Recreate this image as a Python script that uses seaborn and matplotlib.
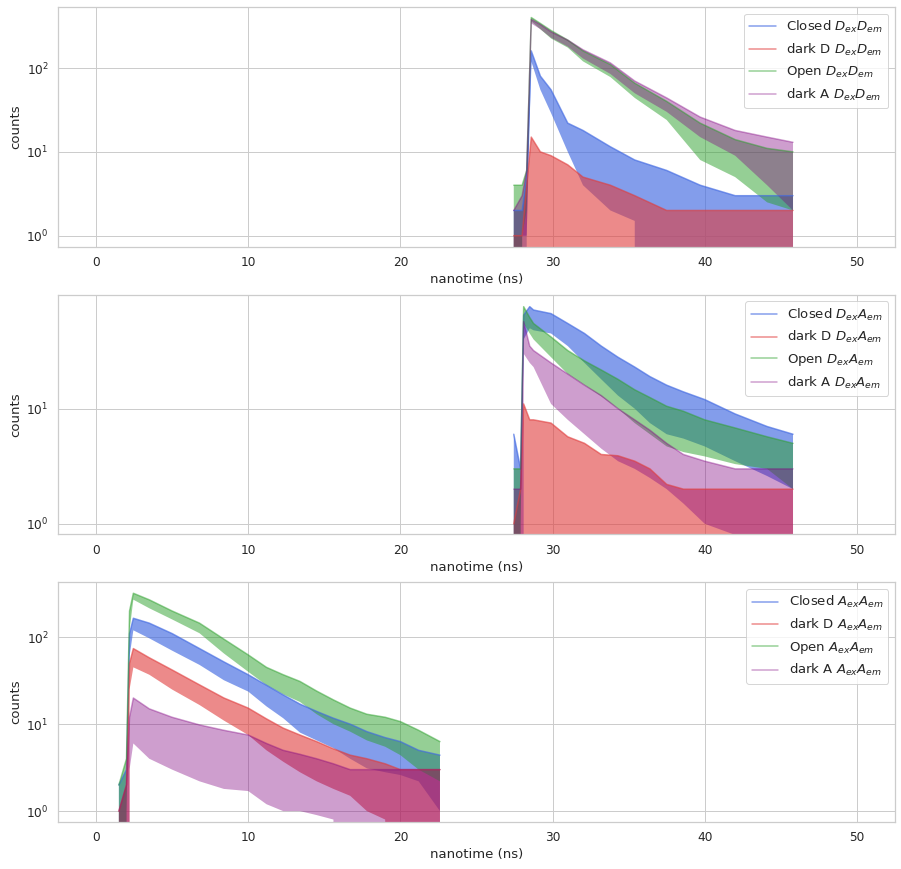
import pandas as pd
import seaborn as sns
import matplotlib.pyplot as plt

series_names = ['Closed', 'dark D', 'Open', 'dark A']
channels = [r'$D_{ex}D_{em}$', r'$D_{ex}A_{em}$', r'$A_{ex}A_{em}$']

# DexDem
t_dd = [27.45, 28.0, 28.3, 28.6, 29.2, 29.9, 31.0, 32.0, 33.8, 35.4, 37.5, 39.7, 42.0, 44.1, 45.8]
closed_dd_hi = [2, 2, 5, 160, 80, 55, 22, 18, 11.5, 8, 6, 4, 3, 3, 3]
closed_dd_lo = [0, 0, 1, 120, 55, 29, 10, 4, 2, 1.5, 0, 0, 0, 0, 0]
darkd_dd_hi = [1, 1, 4, 15, 10, 9, 7, 5, 4, 3, 2, 2, 2, 2, 2]
darkd_dd_lo = [0, 0, 0, 3, 0, 0, 0, 0, 0, 0, 0, 0, 0, 0, 0]
open_dd_hi = [4, 4, 6, 400, 340, 280, 215, 160, 110, 66, 40, 22, 14, 11, 10]
open_dd_lo = [0, 1, 2, 360, 290, 225, 175, 120, 78, 44, 24, 8, 5, 2.5, 2]
darka_dd_hi = [2, 3, 6, 380, 330, 270, 215, 165, 115, 70, 44, 26, 18, 15, 13]
darka_dd_lo = [0, 1, 1, 340, 290, 230, 180, 130, 85, 50, 30, 15, 9, 4, 2]

# DexAem
t_da = [27.45, 27.9, 28.1, 28.5, 28.75, 29.9, 31.0, 32.1, 33.2, 34.3, 35.4, 36.4, 37.5, 38.6, 40.0, 42.0, 44.1, 45.8]
closed_da_hi = [6, 3, 65, 77, 72, 67, 55, 45, 35, 28, 23, 19, 16, 14, 12, 9, 7, 6]
closed_da_lo = [0, 1, 40, 50, 48, 45, 35, 25, 18, 13, 10, 7.5, 6, 5.5, 4.7, 3.5, 2.6, 2]
darkd_da_hi = [1, 2, 11, 8, 8, 7.5, 5.7, 5, 4, 3.9, 3.5, 3, 2.2, 2, 2, 2, 2, 2]
darkd_da_lo = [0] * 18
open_da_hi = [3, 3, 77, 62, 55, 42, 32, 26, 21.7, 18, 14.6, 12.5, 10.5, 9.5, 8, 6.8, 5.7, 5]
open_da_lo = [0, 1, 55, 45, 40, 28, 20, 16, 12.8, 10, 7.5, 6, 4.7, 4.2, 3.85, 3.3, 3, 2]
darka_da_hi = [2, 2, 57, 35, 32, 25, 20, 16, 13, 10, 8, 6.5, 5, 4, 3.5, 3, 3, 3]
darka_da_lo = [0, 0, 30, 25, 23, 11, 8, 6, 4.5, 3.5, 3, 2.5, 2, 1.5, 1, 0.8, 0, 0]

# AexAem
t_aa = [1.5, 2.0, 2.2, 2.45, 3.5, 5.0, 6.8, 8.4, 10.0, 11.2, 12.3, 13.4, 14.5, 15.6, 16.7, 17.8, 19.0, 20.0, 21.2, 22.6]
closed_aa_hi = [2, 3, 110, 165, 145, 110, 74, 52, 37, 28, 21.7, 17, 14, 11.7, 10, 8.2, 7, 6.3, 5, 4.4]
closed_aa_lo = [0, 1, 60, 120, 97, 70, 48, 32, 23.7, 16, 11.7, 8, 6.5, 5.3, 4, 3.1, 2.8, 2.6, 2.2, 1]
darkd_aa_hi = [1, 2, 50, 74, 58, 42, 28.3, 20, 15.3, 11.5, 9, 7.5, 6.3, 5.2, 4.4, 4, 3.5, 3, 3, 3]
darkd_aa_lo = [0, 0, 25, 45, 37, 25, 16.6, 11, 7.5, 5, 3.7, 2.8, 2.2, 1.8, 1.5, 1, 0.8, 0, 0, 0]
open_aa_hi = [2, 4, 200, 320, 269, 200, 145, 95, 62.6, 45, 37, 31, 24, 19, 15.3, 13, 12, 10.7, 8.5, 6.3]
open_aa_lo = [0, 1, 120, 270, 215, 160, 111, 65, 40, 28, 22, 18, 13, 10, 8.2, 6.5, 5.5, 4.4, 3, 2.2]
darka_aa_hi = [1, 2, 12, 20, 15, 12, 9.8, 8.5, 7.5, 6, 5, 4.5, 4, 3.5, 3, 3, 3, 3, 3, 3]
darka_aa_lo = [0, 0, 3, 6, 4, 3, 2.2, 1.8, 1.7, 1.2, 1, 1, 0.9, 0.8, 0, 0, 0, 0, 0, 0]

palette = {'Closed': 'royalblue', 'dark D': '#e03c3c', 'Open': '#2ca02c', 'dark A': 'purple'}
alphas = {'Closed': 0.65, 'dark D': 0.6, 'Open': 0.5, 'dark A': 0.38}

panels = [
    (t_dd, [(closed_dd_hi, closed_dd_lo), (darkd_dd_hi, darkd_dd_lo),
            (open_dd_hi, open_dd_lo), (darka_dd_hi, darka_dd_lo)], (0.74, 535)),
    (t_da, [(closed_da_hi, closed_da_lo), (darkd_da_hi, darkd_da_lo),
            (open_da_hi, open_da_lo), (darka_da_hi, darka_da_lo)], (0.81, 98)),
    (t_aa, [(closed_aa_hi, closed_aa_lo), (darkd_aa_hi, darkd_aa_lo),
            (open_aa_hi, open_aa_lo), (darka_aa_hi, darka_aa_lo)], (0.75, 428)),
]

sns.set_theme(style="whitegrid", font_scale=1.1)
fig, axes = plt.subplots(3, 1, figsize=(901 / 72, 869 / 72), dpi=72)
plt.subplots_adjust(left=0.0644, right=0.9933, top=0.992, bottom=0.0541, hspace=0.2)

for ax, ch, (t, envs, ylim) in zip(axes, channels, panels):
    for name, (hi, lo) in zip(series_names, envs):
        df = pd.DataFrame({'nanotime': t, 'hi': hi, 'lo': lo})
        sns.lineplot(data=df, x='nanotime', y='hi', ax=ax, color=palette[name],
                     alpha=alphas[name], lw=1.5, label=f'{name} {ch}')
        ax.fill_between(df['nanotime'], df['lo'], df['hi'], color=palette[name],
                        alpha=alphas[name], lw=0)
    ax.set_yscale('log')
    ax.set_xlim(-2.5, 52.5)
    ax.set_ylim(*ylim)
    ax.set_xlabel('nanotime (ns)')
    ax.set_ylabel('counts')
    ax.legend(loc='upper right', fontsize=13.2)

plt.savefig('out.png', dpi=72)
